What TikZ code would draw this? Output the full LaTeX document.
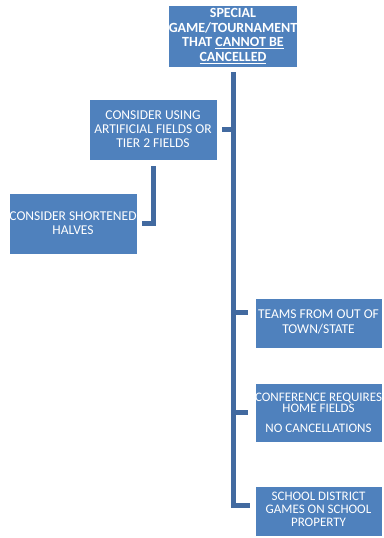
\documentclass[tikz,border=0pt]{standalone}
\usepackage{fontspec}
\setmainfont{Carlito}
\usetikzlibrary{calc}
\definecolor{boxblue}{RGB}{79,129,189}
\definecolor{lineblue}{RGB}{66,106,160}
\tikzset{
  box/.style={fill=boxblue, draw=white, line width=0.6pt, text=white, align=center,
    inner sep=0pt, font=\fontsize{13.5}{14}\selectfont},
  conn/.style={draw=lineblue, line width=5pt, line cap=butt, line join=miter}
}
\begin{document}
\begin{tikzpicture}[x=1pt,y=-1pt]
\useasboundingbox (0,0) rectangle (383,538);
\node[box, minimum width=128pt, minimum height=62pt, font=\bfseries\fontsize{14}{14.5}\selectfont] (top) at (233,36)
  {SPECIAL\\GAME/TOURNAMENT\\THAT \underline{CANNOT BE}\\\underline{CANCELLED}};
\node[box, minimum width=128pt, minimum height=61pt] (b2) at (153,129.5)
  {CONSIDER USING\\ARTIFICIAL FIELDS OR\\TIER 2 FIELDS};
\node[box, minimum width=128pt, minimum height=61pt] (b3) at (73,223.5)
  {CONSIDER SHORTENED\\HALVES};
\node[box, minimum width=127pt, minimum height=50pt, font=\fontsize{13.5}{15}\selectfont] (b4) at (318.5,323)
  {\raisebox{2pt}{\begin{tabular}{@{}c@{}}TEAMS FROM OUT OF\\TOWN/STATE\end{tabular}}};
\node[box, minimum width=127pt, minimum height=59pt, font=\fontsize{13}{11.5}\selectfont] (b5) at (318.5,412.5)
  {CONFERENCE REQUIRES\\HOME FIELDS\\[8pt]NO CANCELLATIONS};
\node[box, minimum width=127pt, minimum height=50pt, font=\fontsize{13}{12.8}\selectfont] (b6) at (318.5,511)
  {\raisebox{5pt}{\begin{tabular}{@{}c@{}}SCHOOL DISTRICT\\GAMES ON SCHOOL\\PROPERTY\end{tabular}}};
% trunk
\draw[conn] ([yshift=-5pt]top.south) |- ([xshift=-5pt,yshift=5.5pt]b6.west);
\draw[conn] ([xshift=5pt]b2.east) -- (b2.east -| top.south);
\draw[conn] ([xshift=-7pt,yshift=11pt]b4.west) -- ([yshift=11pt]b4.west -| top.south);
\draw[conn] ([xshift=-7pt]b5.west) -- (b5.west -| top.south);
\draw[conn] ([yshift=-6pt]b2.south) |- ([xshift=5pt]b3.east);
\end{tikzpicture}
\end{document}
